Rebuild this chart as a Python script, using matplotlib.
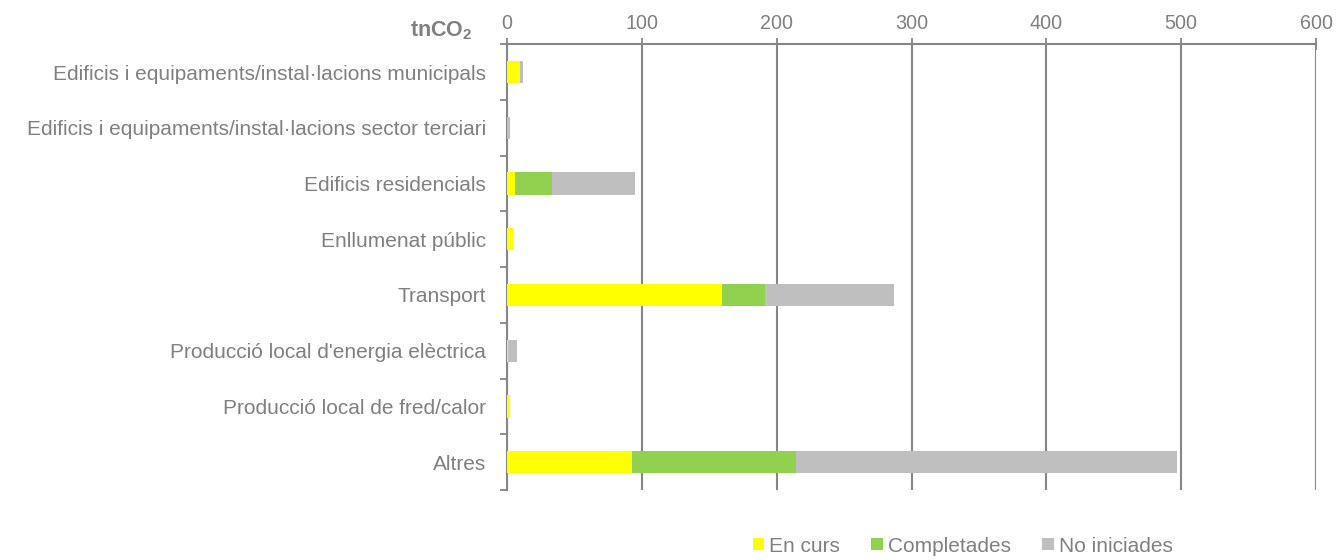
import numpy as np
import matplotlib.pyplot as plt
from matplotlib.patches import Patch

plt.rcParams['font.family'] = ['Liberation Sans', 'DejaVu Sans']
plt.rcParams['mathtext.fontset'] = 'custom'
plt.rcParams['mathtext.rm'] = 'Liberation Sans'
plt.rcParams['mathtext.bf'] = 'Liberation Sans:bold'

# categories (top to bottom)
categories = ["Edificis i equipaments/instal·lacions municipals",
              "Edificis i equipaments/instal·lacions sector terciari",
              "Edificis residencials",
              "Enllumenat públic",
              "Transport",
              "Producció local d'energia elèctrica",
              "Producció local de fred/calor",
              "Altres"]

# tnCO2 per state
en_curs = [9.5, 0.0, 5.5, 4.2, 159.5, 0.3, 2.0, 92.5]
completades = [0.0, 0.0, 28.0, 0.0, 32.0, 0.0, 0.0, 122.0]
no_iniciades = [2.5, 2.5, 61.0, 0.0, 95.5, 7.2, 0.0, 282.5]

series_names = ["En curs", "Completades", "No iniciades"]
colors = ["#ffff00", "#92d050", "#bfbfbf"]
grey = "#808080"
line_grey = "#868686"

fig = plt.figure(figsize=(13.38, 5.6), dpi=100)
ax = fig.add_axes([0.379, 0.125, 0.6046, 0.796])

y = np.arange(len(categories))
left = np.zeros(len(categories))
for vals, name, c in zip([en_curs, completades, no_iniciades], series_names, colors):
    vals = np.array(vals)
    ax.barh(y, vals, left=left, height=0.4, color=c, edgecolor="none", zorder=3, label=name)
    left += vals

ax.set_ylim(len(categories) - 0.5, -0.5)
ax.set_xlim(0, 600)
ax.set_xticks(np.arange(0, 601, 100))
ax.xaxis.tick_top()
ax.tick_params(axis="x", direction="inout", length=8, width=1.3, color=line_grey,
               labelsize=14.2, labelcolor=grey, pad=4)
ax.grid(axis="x", color=line_grey, lw=1.5, zorder=1)

# category labels at centers, ticks at boundaries
ax.set_yticks(y)
ax.set_yticklabels(categories, fontsize=15, color=grey)
ax.tick_params(axis="y", length=0, pad=15)
ax.set_yticks(np.arange(-0.5, len(categories) + 0.5, 1), minor=True)
ax.tick_params(axis="y", which="minor", direction="out", length=5, width=1.3, color=line_grey)

for s in ["right", "bottom"]:
    ax.spines[s].set_visible(False)
for s in ["top", "left"]:
    ax.spines[s].set_color(line_grey)
    ax.spines[s].set_linewidth(1.5)

fig.text(0.353, 0.946, r"tnCO$_\mathbf{2}$", fontsize=15.5, fontweight="bold", color=grey,
         ha="right", va="center")

handles = [Patch(facecolor=c, edgecolor="none") for c in colors]
fig.legend(handles, series_names, loc="center", bbox_to_anchor=(0.7195, 0.025), ncol=3,
           frameon=False, fontsize=15, labelcolor=grey, handlelength=0.55, handleheight=0.55,
           handletextpad=0.25, columnspacing=1.5)

fig.savefig("out.png", dpi=100)
